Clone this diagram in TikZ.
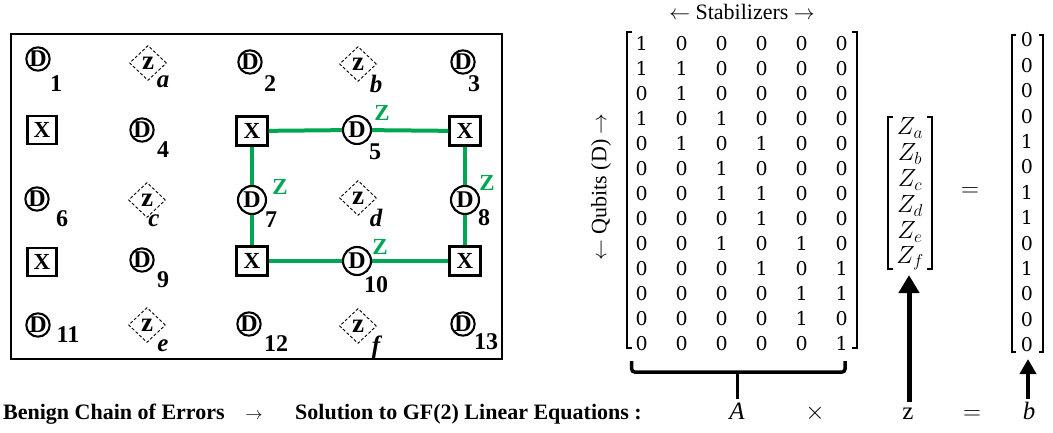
\documentclass[tikz,border=0pt]{standalone}
\usepackage{fontspec}
\setmainfont{Liberation Serif}
\newfontfamily\numfont{DejaVu Serif}
\usetikzlibrary{shapes.geometric,arrows.meta}
\definecolor{qgreen}{RGB}{0,166,81}
\newcommand{\fsz}[1]{\fontsize{#1}{#1}\selectfont}
\begin{document}
\begin{tikzpicture}[x=1pt,y=-1pt,
 dq/.style={circle,draw,line width=2.1,inner sep=0,minimum size=23,font=\bfseries\fsz{24}},
 dqb/.style={dq,minimum size=28},
 xq/.style={draw,line width=2.1,inner sep=0,minimum width=29,minimum height=28,font=\bfseries\fsz{23}},
 xqb/.style={xq,minimum width=31,minimum height=29},
 zq/.style={diamond,draw,dash pattern=on 3pt off 2pt,line width=0.9,inner sep=0,minimum width=37,minimum height=35,font=\bfseries\fsz{27}},
 sub/.style={font=\bfseries\fsz{24},inner sep=0},
 isub/.style={font=\bfseries\itshape\fsz{25},inner sep=0},
 gz/.style={font=\bfseries\fsz{23},text=qgreen,inner sep=0},
 gline/.style={qgreen,line width=4},
 mnum/.style={inner sep=0,font=\numfont\fsz{19}},
 znum/.style={inner sep=0,font=\fsz{24}},
 brk/.style={line width=1.8},
 lbl/.style={inner sep=0,font=\fsz{22}},
 eqlbl/.style={inner sep=0,anchor=base,font=\fsz{25}},
 bold/.style={inner sep=0,anchor=base west,font=\bfseries\fsz{22}},
 bigarrow/.style={line width=5,-{Triangle[width=20pt,length=18pt]}},
 midarrow/.style={line width=4,-{Triangle[width=16pt,length=15pt]}}
]
\useasboundingbox (0,0) rectangle (1053,433);
% frame
\draw[line width=1.2] (11,34) rectangle (502,359);
% data qubits
\node[dq] (d1) at (38,59) {D};
\node[dq] (d2) at (250,62) {D};
\node[dq] (d3) at (463,62) {D};
\node[dq] (d4) at (142,130) {D};
\node[dqb] (d5) at (357,130) {D};
\node[dq] (d6) at (37,199) {D};
\node[dqb] (d7) at (252,200) {D};
\node[dqb] (d8) at (465,200) {D};
\node[dq] (d9) at (142,260) {D};
\node[dqb] (d10) at (357,261) {D};
\node[dq] (d11) at (38,325) {D};
\node[dq] (d12) at (249,324) {D};
\node[dq] (d13) at (463,324) {D};
% X stabilizers
\node[xq] (x1) at (42,130) {X};
\node[xqb] (x2) at (252,131) {X};
\node[xqb] (x3) at (465,131) {X};
\node[xq] (x4) at (42,262) {X};
\node[xqb] (x5) at (252,261) {X};
\node[xqb] (x6) at (465,261) {X};
% Z stabilizers
\node[zq] (za) at (148,63) {z};
\node[zq] (zb) at (358,64) {z};
\node[zq] (zc) at (147,200) {z};
\node[zq] (zd) at (358,198) {z};
\node[zq] (ze) at (147,325) {z};
\node[zq] (zf) at (358,326) {z};
% subscripts
\node[sub] (s1) at (56,84) {1};
\node[sub] (s2) at (270,84) {2};
\node[sub] (s3) at (474,84) {3};
\node[sub] (s4) at (163,150) {4};
\node[sub] (s5) at (375,152) {5};
\node[sub] (s6) at (62,219) {6};
\node[sub] (s7) at (271,220) {7};
\node[sub] (s8) at (484,218) {8};
\node[sub] (s9) at (163,280) {9};
\node[sub] (s10) at (376,285) {10};
\node[sub] (s11) at (68,335) {11};
\node[sub] (s12) at (276,344) {12};
\node[sub] (s13) at (486,342) {13};
\node[isub] (sa) at (163,82) {a};
\node[isub] (sb) at (376,84) {b};
\node[isub] (sc) at (154,221) {c};
\node[isub] (sd) at (376,218) {d};
\node[isub] (se) at (163,346) {e};
\node[isub] (sf) at (376,347) {f};
% green chain
\draw[gline] (x2) -- (d5) -- (x3);
\draw[gline] (x2) -- (d7) -- (x5);
\draw[gline] (x5) -- (d10) -- (x6);
\draw[gline] (x3) -- (d8) -- (x6);
\node[gz] (g5) at (382,113) {Z};
\node[gz] (g7) at (280,187) {Z};
\node[gz] (g8) at (487,183) {Z};
\node[gz] (g10) at (380,247) {Z};
% header labels
\node[lbl,anchor=base] (stab) at (742,20) {$\leftarrow$ Stabilizers $\rightarrow$};
\node[lbl,rotate=90] (qub) at (601,187) {$\leftarrow$ Qubits (D) $\rightarrow$};
% matrix A
\foreach \row [count=\i] in {{1,0,0,0,0,0},{1,1,0,0,0,0},{0,1,0,0,0,0},{1,0,1,0,0,0},{0,1,0,1,0,0},{0,0,1,0,0,0},{0,0,1,1,0,0},{0,0,0,1,0,0},{0,0,1,0,1,0},{0,0,0,1,0,1},{0,0,0,0,1,1},{0,0,0,0,1,0},{0,0,0,0,0,1}}{
  \foreach \v [count=\j] in \row {
    \node[mnum] (m-\i-\j) at ({601.7+40*\j},{18.3+25*\i}) {\v};
  }
}
\draw[brk] (632,31.7) -- (627,31.7) -- (627,348.3) -- (632,348.3);
\draw[brk] (852,31.7) -- (857,31.7) -- (857,348.3) -- (852,348.3);
% brace under A
\draw[line width=3.5,rounded corners=3] (631.7,361) -- (631.7,372) -- (845,372) -- (845,361);
\coordinate (bmid) at (737.7,372);
\coordinate (bend) at (737.7,399);
\draw[line width=2.5] (bmid) -- (bend);
% vector z
\foreach \s [count=\k] in {a,b,c,d,e,f}{
  \node[znum] (zz-\k) at (910,{102.3+26*\k}) {$Z_\s$};
}
\draw[brk] (893,117) -- (888.3,117) -- (888.3,269) -- (893,269);
\draw[brk] (927,117) -- (931.7,117) -- (931.7,269) -- (927,269);
\node[znum] (eq1) at (970,192) {$=$};
% vector b
\foreach \v [count=\k] in {0,0,0,0,1,0,1,1,0,1,0,0,0}{
  \node[mnum] (bb-\k) at (1027,{14.6+25.4*\k}) {\v};
}
\draw[brk] (1016,35) -- (1011.7,35) -- (1011.7,352) -- (1016,352);
\draw[brk] (1039,35) -- (1043.3,35) -- (1043.3,352) -- (1039,352);
% bottom equation
\node[bold] (t1) at (3,419) {Benign Chain of Errors};
\node[inner sep=0,anchor=base,font=\fsz{18}] (t2) at (254,419) {$\rightarrow$};
\node[bold] (t3) at (295,419) {Solution to GF(2) Linear Equations :};
\node[eqlbl] (alab) at (737,419) {\textit{A}};
\node[eqlbl] (xlab) at (815,419) {$\times$};
\node[eqlbl] (zlab) at (908,419) {z};
\node[eqlbl] (elab) at (972,419) {$=$};
\node[eqlbl] (blab) at (1029,419) {\textit{b}};
\coordinate (zvb) at (909,275);
\coordinate (zab) at (909,402);
\draw[bigarrow] (zab) -- (zvb);
\coordinate (bvb) at (1028,359);
\coordinate (bab) at (1028,399);
\draw[midarrow] (bab) -- (bvb);
\end{tikzpicture}
\end{document}
